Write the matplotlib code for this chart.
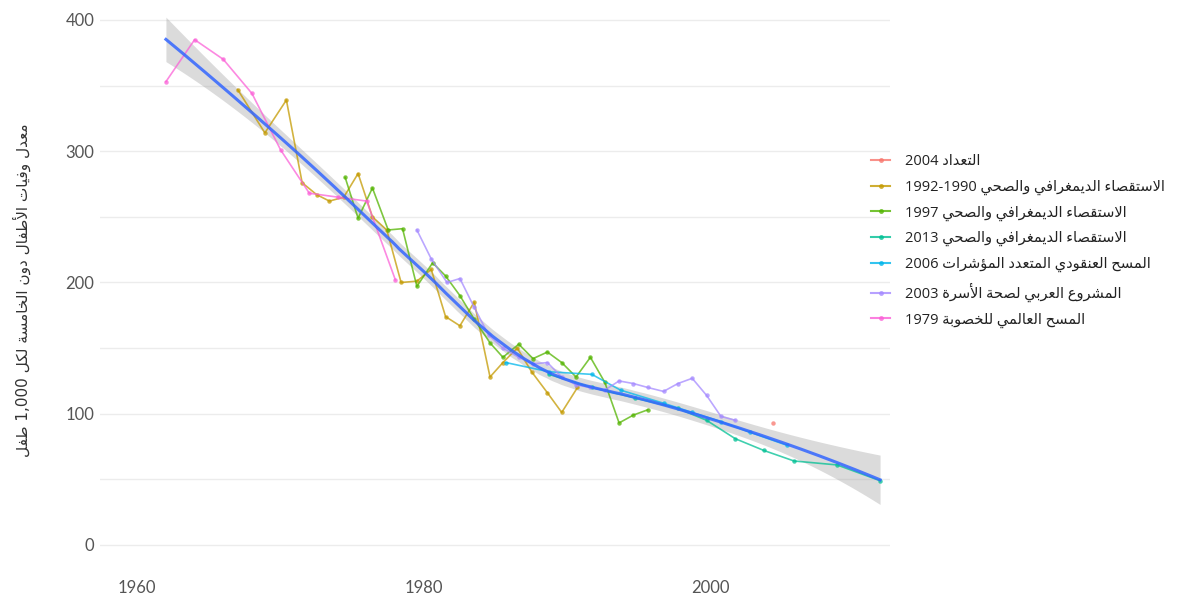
import numpy as np
import matplotlib
matplotlib.use("Agg")
import matplotlib.pyplot as plt
from matplotlib.lines import Line2D

# data (year, under-five mortality per 1000)
census_2004_x = [2004.3]
census_2004_y = [93]

dhs_1990_x = [1967.0, 1968.9, 1970.4, 1971.5, 1972.5, 1973.4, 1974.4, 1975.4, 1976.4, 1977.4,
              1978.4, 1979.5, 1980.5, 1981.5, 1982.5, 1983.5, 1984.6, 1985.5, 1986.5, 1987.5,
              1988.6, 1989.6, 1990.7]
dhs_1990_y = [347, 314, 339, 276, 267, 262, 265, 283, 250, 240,
              200, 201, 210, 174, 167, 185, 128, 139, 150, 132,
              116, 101, 120]

dhs_1997_x = [1974.5, 1975.4, 1976.4, 1977.5, 1978.5, 1979.5, 1980.6, 1981.5, 1982.5, 1983.5,
              1984.6, 1985.5, 1986.6, 1987.6, 1988.6, 1989.6, 1990.6, 1991.6, 1992.6, 1993.6,
              1994.6, 1995.6]
dhs_1997_y = [280, 249, 272, 240, 241, 197, 215, 205, 190, 172,
              154, 143, 153, 142, 147, 139, 128, 143, 124, 93,
              99, 103]

dhs_2013_x = [1988.7, 1991.7, 1994.7, 1997.7, 1999.7, 2001.7, 2003.7, 2005.8, 2008.8, 2011.8]
dhs_2013_y = [130, 120, 112, 104, 95, 81, 72, 64, 61, 49]

mics_2006_x = [1985.7, 1988.7, 1991.7, 1993.7, 1996.7, 1998.7, 2000.7, 2002.7, 2005.3]
mics_2006_y = [139, 132, 130, 118, 108, 101, 94, 86, 76]

papfam_2003_x = [1979.5, 1980.5, 1981.6, 1982.5, 1983.5, 1984.5, 1985.5, 1986.6, 1987.6, 1988.6,
                 1989.6, 1990.6, 1991.6, 1992.6, 1993.6, 1994.6, 1995.6, 1996.7, 1997.7, 1998.7,
                 1999.7, 2000.7, 2001.7]
papfam_2003_y = [240, 218, 200, 203, 181, 160, 150, 143, 138, 139,
                 128, 122, 120, 118, 125, 123, 120, 117, 123, 127,
                 114, 98, 95]

wfs_1979_x = [1962, 1964, 1966, 1968, 1970, 1972, 1974, 1976, 1978]
wfs_1979_y = [353, 385, 370, 344, 301, 268, 265, 262, 202]

labels = ["التعداد 2004",
          "الاستقصاء الديمغرافي والصحي 1990-1992",
          "الاستقصاء الديمغرافي والصحي 1997",
          "الاستقصاء الديمغرافي والصحي 2013",
          "المسح العنقودي المتعدد المؤشرات 2006",
          "المشروع العربي لصحة الأسرة 2003",
          "المسح العالمي للخصوبة 1979"]
colors = ["#F8766D", "#C49A00", "#53B400", "#00C094", "#00B6EB", "#A58AFF", "#FB61D7"]
ylabel = "معدل وفيات الأطفال دون الخامسة لكل 1,000 طفل"

series = [(census_2004_x, census_2004_y), (dhs_1990_x, dhs_1990_y), (dhs_1997_x, dhs_1997_y),
          (dhs_2013_x, dhs_2013_y), (mics_2006_x, mics_2006_y), (papfam_2003_x, papfam_2003_y),
          (wfs_1979_x, wfs_1979_y)]

# --- minimal arabic shaping (matplotlib has no bidi / joining) ---
DUAL = {'ئ': 0xFE89, 'ب': 0xFE8F, 'ت': 0xFE95, 'ث': 0xFE99, 'ج': 0xFE9D, 'ح': 0xFEA1,
        'خ': 0xFEA5, 'س': 0xFEB1, 'ش': 0xFEB5, 'ص': 0xFEB9, 'ض': 0xFEBD, 'ط': 0xFEC1,
        'ظ': 0xFEC5, 'ع': 0xFEC9, 'غ': 0xFECD, 'ف': 0xFED1, 'ق': 0xFED5, 'ك': 0xFED9,
        'ل': 0xFEDD, 'م': 0xFEE1, 'ن': 0xFEE5, 'ه': 0xFEE9, 'ي': 0xFEF1}
RIGHT = {'آ': 0xFE81, 'أ': 0xFE83, 'ؤ': 0xFE85, 'إ': 0xFE87, 'ا': 0xFE8D, 'ة': 0xFE93,
         'د': 0xFEA9, 'ذ': 0xFEAB, 'ر': 0xFEAD, 'ز': 0xFEAF, 'و': 0xFEED, 'ى': 0xFEEF}
LAMALEF = {'آ': 0xFEF5, 'أ': 0xFEF7, 'إ': 0xFEF9, 'ا': 0xFEFB}


def shape_word(w):
    units = []
    i = 0
    while i < len(w):
        if w[i] == 'ل' and i + 1 < len(w) and w[i + 1] in LAMALEF:
            units.append(('LA', LAMALEF[w[i + 1]]))
            i += 2
        else:
            units.append((w[i], None))
            i += 1
    is_letter = lambda u: u[0] in DUAL or u[0] in RIGHT or u[0] == 'LA'
    out = []
    for k, u in enumerate(units):
        jp = k > 0 and units[k - 1][0] in DUAL
        jn = u[0] in DUAL and k + 1 < len(units) and is_letter(units[k + 1])
        if u[0] == 'LA':
            out.append(chr(u[1] + (1 if jp else 0)))
        elif u[0] in DUAL:
            idx = 3 if (jp and jn) else (1 if jp else (2 if jn else 0))
            out.append(chr(DUAL[u[0]] + idx))
        elif u[0] in RIGHT:
            out.append(chr(RIGHT[u[0]] + (1 if jp else 0)))
        else:
            out.append(u[0])
    return ''.join(out)


def ar(s):
    out = []
    for t in reversed(s.split(' ')):
        if any('\u0600' <= c <= '\u06FF' for c in t):
            out.append(shape_word(t)[::-1])
        else:
            out.append('-'.join(reversed(t.split('-'))))
    return ' '.join(out)


# --- loess (degree 2, span 0.75) over all points, like geom_smooth ---
def loess(x, y, xs, span=0.75):
    n = len(x)
    q = int(np.ceil(span * n))
    lvec = np.zeros((len(xs), n))
    L = np.zeros((n, n))
    for grid, target in ((xs, lvec), (x, L)):
        for j, x0 in enumerate(grid):
            d = np.abs(x - x0)
            h = np.sort(d)[q - 1]
            w = np.clip(1 - (d / h) ** 3, 0, None) ** 3
            X = np.column_stack([np.ones(n), x - x0, (x - x0) ** 2])
            XtW = X.T * w
            target[j] = np.linalg.solve(XtW @ X, XtW)[0]
    fit = lvec @ y
    resid = y - L @ y
    dof = n - np.trace(L)
    sigma = np.sqrt(np.sum(resid ** 2) / dof)
    se = sigma * np.sqrt(np.sum(lvec ** 2, axis=1))
    return fit, se


all_x = np.concatenate([np.array(s[0], float) for s in series])
all_y = np.concatenate([np.array(s[1], float) for s in series])
xs = np.linspace(all_x.min(), all_x.max(), 200)
fit, se = loess(all_x, all_y, xs)

plt.rcParams['font.family'] = ['Lato', 'DejaVu Sans']
fig = plt.figure(figsize=(11.9, 5.99), dpi=100)
ax = fig.add_axes([0.084, 0.0573, 0.664, 0.9203])

for (sx, sy), c in zip(series, colors):
    ax.plot(sx, sy, color=c, lw=1.2, alpha=0.75, marker='o', markersize=3.2,
            markeredgewidth=0, zorder=3)

ax.fill_between(xs, fit - 1.96 * se, fit + 1.96 * se, color='#999999', alpha=0.35,
                lw=0, zorder=2)
ax.plot(xs, fit, color='#3366FF', lw=2.2, alpha=0.85, zorder=4)

ax.set_xlim(1957.4, 2012.5)
ax.set_ylim(-15, 405)
ax.set_xticks([1960, 1980, 2000])
ax.set_yticks([0, 100, 200, 300, 400])
ax.set_yticks(np.arange(50, 401, 100), minor=True)
ax.grid(True, which='both', axis='y', color='#ececec', lw=1)
ax.set_axisbelow(True)
for s in ax.spines.values():
    s.set_visible(False)
ax.tick_params(axis='both', which='both', length=0, labelsize=12, labelcolor='#555555')
ax.tick_params(axis='x', pad=11)
ax.tick_params(axis='y', pad=4)

fig.text(0.018, 1 - 290 / 599, ar(ylabel), rotation=90, ha='center', va='center',
         fontsize=11, color='#333333', family='DejaVu Sans')

handles = [Line2D([0], [0], color=c, lw=1.5, marker='o', markersize=3.5,
                  markeredgewidth=0, alpha=0.8) for c in colors]
ax.legend(handles, [ar(l) for l in labels], loc='upper left',
          bbox_to_anchor=(0.7213, 1 - 141 / 599), bbox_transform=fig.transFigure,
          frameon=False, handlelength=1.3, handletextpad=1.0, labelspacing=0.72,
          prop={'family': ['Open Sans', 'DejaVu Sans'], 'size': 10.5},
          labelcolor='#222222')

fig.savefig('out.png', dpi=100)
